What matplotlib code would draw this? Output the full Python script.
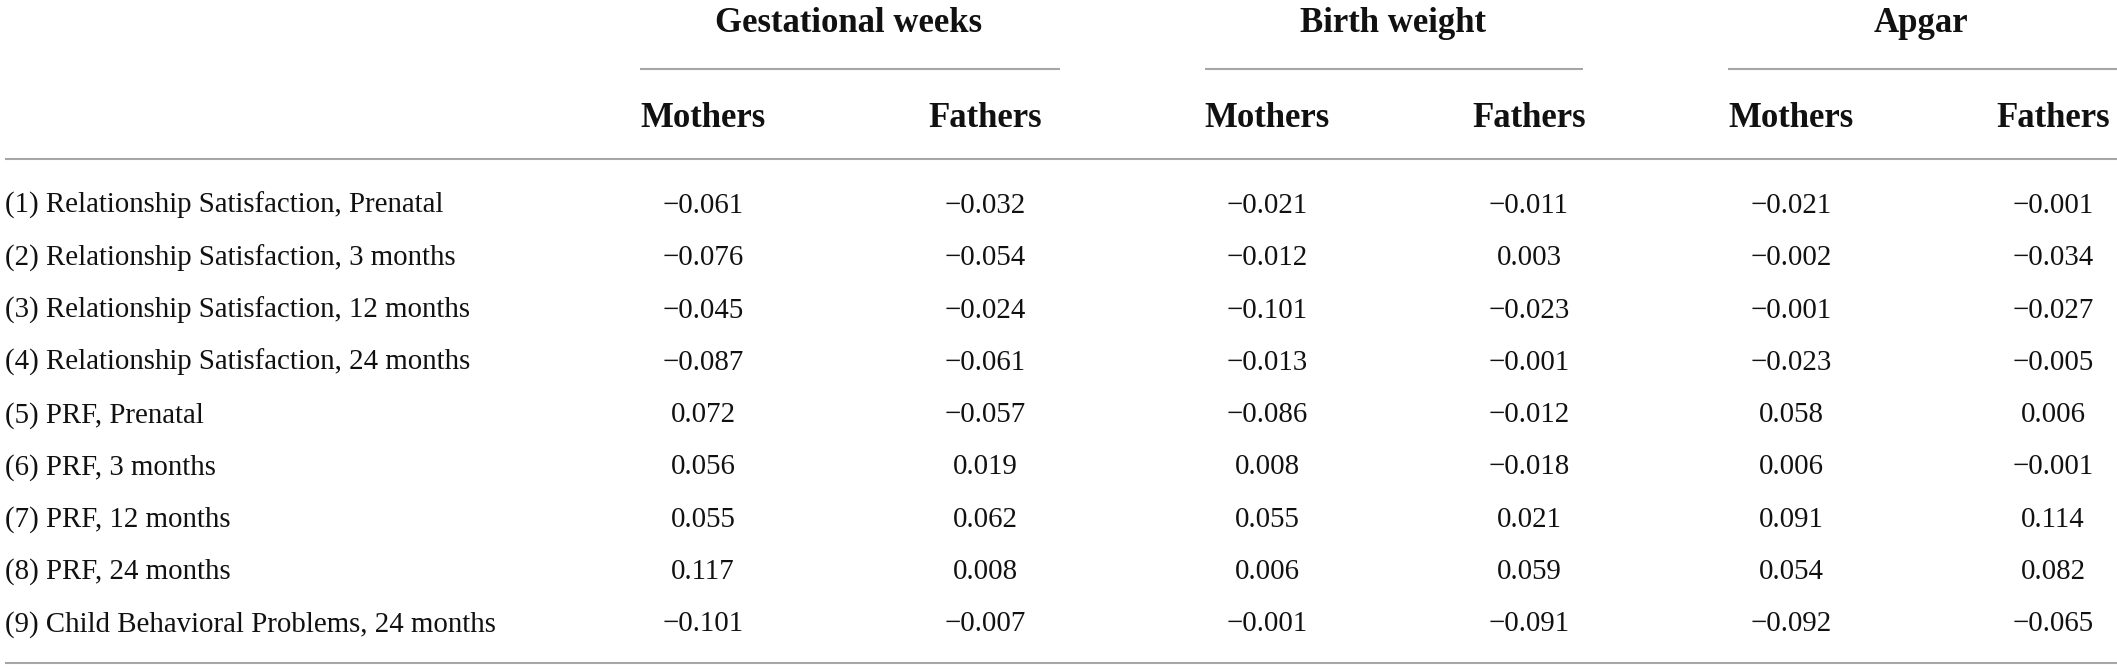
import matplotlib.pyplot as plt

row_labels = [
    "(1) Relationship Satisfaction, Prenatal",
    "(2) Relationship Satisfaction, 3 months",
    "(3) Relationship Satisfaction, 12 months",
    "(4) Relationship Satisfaction, 24 months",
    "(5) PRF, Prenatal",
    "(6) PRF, 3 months",
    "(7) PRF, 12 months",
    "(8) PRF, 24 months",
    "(9) Child Behavioral Problems, 24 months",
]
groups = ["Gestational weeks", "Birth weight", "Apgar"]
sub_headers = ["Mothers", "Fathers"]

gw_mothers = [-0.061, -0.076, -0.045, -0.087, 0.072, 0.056, 0.055, 0.117, -0.101]
gw_fathers = [-0.032, -0.054, -0.024, -0.061, -0.057, 0.019, 0.062, 0.008, -0.007]
bw_mothers = [-0.021, -0.012, -0.101, -0.013, -0.086, 0.008, 0.055, 0.006, -0.001]
bw_fathers = [-0.011, 0.003, -0.023, -0.001, -0.012, -0.018, 0.021, 0.059, -0.091]
ap_mothers = [-0.021, -0.002, -0.001, -0.023, 0.058, 0.006, 0.091, 0.054, -0.092]
ap_fathers = [-0.001, -0.034, -0.027, -0.005, 0.006, -0.001, 0.114, 0.082, -0.065]

columns = [gw_mothers, gw_fathers, bw_mothers, bw_fathers, ap_mothers, ap_fathers]

# layout in pixel units of the 2117x670 canvas
W, H = 2117, 670
col_x = [703, 985, 1267, 1529, 1791, 2053]
group_x = [849, 1393, 1921]
group_lines = [(640, 1060), (1205, 1583), (1728, 2117)]
row0, row_step = 213, 52.3
line_color = "#a6a6a6"
serif = ["Liberation Serif", "DejaVu Serif"]


def fmt(v):
    return f"{v:.3f}".replace("-", "\u2212")


fig = plt.figure(figsize=(W / 100, H / 100), dpi=100)
ax = fig.add_axes([0, 0, 1, 1])
ax.set_xlim(0, W)
ax.set_ylim(H, 0)
ax.axis("off")

for name, x in zip(groups, group_x):
    ax.text(x, 32, name, ha="center", va="baseline", fontsize=25,
            fontweight="bold", family=serif, color="#111111")
for x0, x1 in group_lines:
    ax.plot([x0, x1], [69, 69], color=line_color, lw=1.5, solid_capstyle="butt")

for i, x in enumerate(col_x):
    ax.text(x, 127, sub_headers[i % 2], ha="center", va="baseline", fontsize=25,
            fontweight="bold", family=serif, color="#111111")

ax.plot([5, W], [159, 159], color=line_color, lw=1.5, solid_capstyle="butt")
ax.plot([5, W], [663, 663], color=line_color, lw=1.5, solid_capstyle="butt")

for r, label in enumerate(row_labels):
    y = row0 + r * row_step
    ax.text(5, y, label, ha="left", va="baseline", fontsize=20.8,
            family=serif, color="#111111")
    for x, col in zip(col_x, columns):
        ax.text(x, y, fmt(col[r]), ha="center", va="baseline", fontsize=20.8,
                family=serif, color="#111111")

fig.savefig("out.png", dpi=100)
